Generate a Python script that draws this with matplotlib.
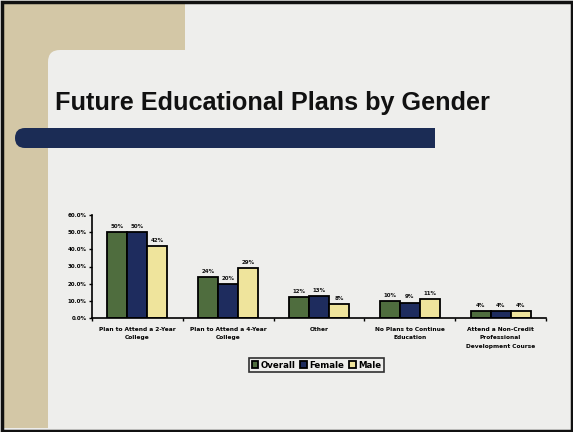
import matplotlib
matplotlib.use("Agg")
import matplotlib.pyplot as plt
from matplotlib.patches import Rectangle, FancyBboxPatch
import numpy as np

categories = ["Plan to Attend a 2-Year\nCollege", "Plan to Attend a 4-Year\nCollege", "Other",
              "No Plans to Continue\nEducation", "Attend a Non-Credit\nProfessional\nDevelopment Course"]
overall = [50, 24, 12, 10, 4]
female = [50, 20, 13, 9, 4]
male = [42, 29, 8, 11, 4]
series_names = ["Overall", "Female", "Male"]
yticks = [0, 10, 20, 30, 40, 50, 60]
title = "Future Educational Plans by Gender"

W, H = 573, 432
fig = plt.figure(figsize=(W / 100, H / 100), dpi=100)
bg = "#eeeeec"
tan = "#d3c7a6"
navy_bar = "#1b2c55"
fig.patch.set_facecolor(bg)

deco = fig.add_axes([0, 0, 1, 1])
deco.set_xlim(0, W)
deco.set_ylim(H, 0)
deco.axis("off")
deco.add_patch(Rectangle((4, 4), 181, 60, facecolor=tan, edgecolor="none"))
deco.add_patch(Rectangle((4, 4), 44, 424, facecolor=tan, edgecolor="none"))
deco.add_patch(FancyBboxPatch((48, 50), 600, 500, boxstyle="round,pad=0,rounding_size=12",
                              facecolor=bg, edgecolor="none"))
deco.add_patch(FancyBboxPatch((15, 128), 420, 20, boxstyle="round,pad=0,rounding_size=10",
                              facecolor=navy_bar, edgecolor="none"))
deco.add_patch(Rectangle((415, 128), 20, 20, facecolor=navy_bar, edgecolor="none"))
deco.add_patch(Rectangle((1.5, 1.5), W - 3, H - 3, facecolor="none", edgecolor="#111111", lw=2.5))
deco.text(55, 103, title, fontsize=18.2, fontweight="bold", family="Liberation Sans",
          color="#111111", va="center", ha="left")

ax = fig.add_axes([92 / W, 1 - 318 / H, (546 - 92) / W, (318 - 215) / H])
ax.set_facecolor("none")
x = np.arange(len(categories))
w = 0.22
colors = ["#4f6d3e", "#1e2c5e", "#efe49c"]
for i, (vals, c, name) in enumerate(zip([overall, female, male], colors, series_names)):
    bars = ax.bar(x + (i - 1) * w, vals, w, color=c, edgecolor="black", linewidth=1.3, label=name)
    for b, v in zip(bars, vals):
        ax.text(b.get_x() + b.get_width() / 2, v + 1.8, f"{v}%", ha="center", va="bottom",
                fontsize=4, fontweight="bold", color="#111111")

ax.set_xlim(-0.5, len(categories) - 0.5)
ax.set_ylim(0, 60)
ax.set_yticks(yticks)
ax.set_yticklabels([f"{t:.1f}%" for t in yticks], fontsize=4, fontweight="bold")
ax.set_xticks(np.arange(len(categories) + 1) - 0.5, minor=False)
ax.set_xticklabels([])
ax.tick_params(axis="x", direction="out", length=2, width=1)
ax.tick_params(axis="y", direction="out", length=2, width=1, pad=2)
for i, cat in enumerate(categories):
    ax.text(i, -5, cat, ha="center", va="top", fontsize=4.2, fontweight="bold",
            linespacing=1.9, transform=ax.transData)
for s in ["top", "right"]:
    ax.spines[s].set_visible(False)
for s in ["left", "bottom"]:
    ax.spines[s].set_linewidth(1.2)

leg = fig.legend(loc="center", bbox_to_anchor=(316.5 / W, 1 - 365 / H), ncol=3,
                 prop={"weight": "bold", "size": 6.2}, frameon=True,
                 handlelength=0.8, handleheight=0.8, handletextpad=0.3, columnspacing=0.5,
                 borderpad=0.3, fancybox=False, edgecolor="black")
leg.get_frame().set_linewidth(1.2)
leg.get_frame().set_facecolor(bg)

fig.savefig("out.png", dpi=100, facecolor=fig.get_facecolor())
